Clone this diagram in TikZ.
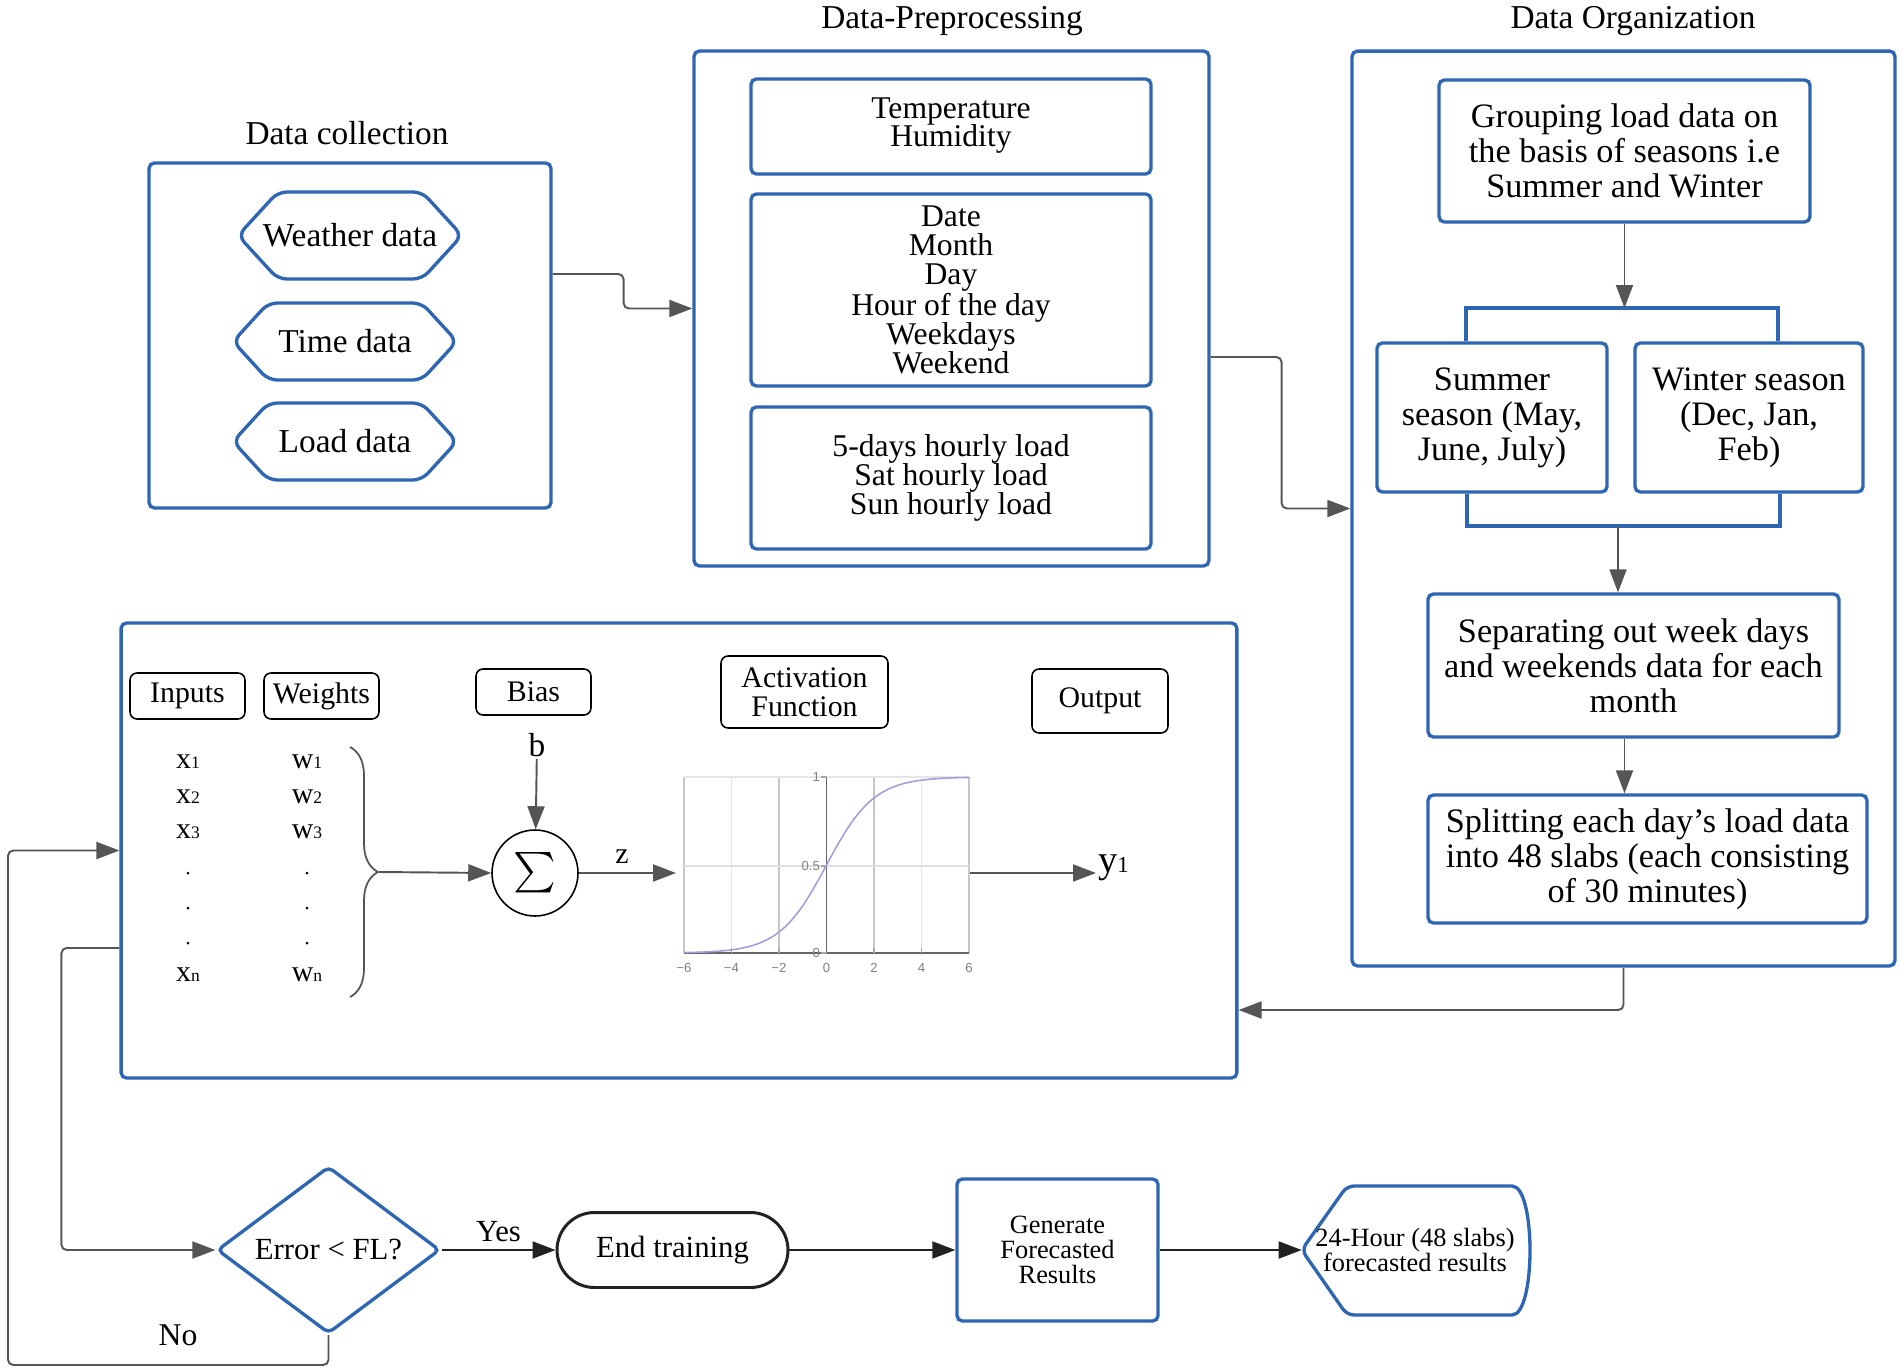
\documentclass[tikz,border=0pt]{standalone}
\usepackage{fontspec}
\setmainfont{Liberation Serif}
\setsansfont{Liberation Sans}
\usepackage{graphicx}
\usepackage{xcolor}
\usetikzlibrary{shapes}
\usetikzlibrary{shapes.misc}
\usetikzlibrary{arrows.meta}
\usetikzlibrary{decorations.pathreplacing}

\definecolor{boxblue}{HTML}{2F66B3}
\definecolor{lngray}{HTML}{555555}
\definecolor{lndark}{HTML}{222222}
\definecolor{sigcol}{HTML}{A0A0D8}

\newcommand{\fsize}[2]{\fontsize{#1}{#2}\selectfont}
\newcommand{\smallsub}[1]{{\fontsize{10}{10}\selectfont #1}}

\tikzset{
  bluebox/.style={draw=boxblue, line width=1.9pt, rounded corners=3pt, align=center, inner sep=0pt},
  hexa/.style={bluebox, shape=signal, signal to=west and east, signal pointer angle=95,
    rounded corners=5pt, minimum width=4.48cm, font=\fsize{19}{20}},
  prepbox/.style={bluebox, minimum width=8cm, font=\fsize{18}{16.5}},
  orgbox/.style={bluebox, font=\fsize{19.5}{20}},
  lblbox/.style={draw, line width=.9pt, rounded corners=4pt, align=center, inner sep=0pt,
    minimum width=2.3cm, minimum height=.92cm, font=\fsize{17}{16.5}},
  vartxt/.style={inner sep=1pt, font=\fsize{17}{17}},
  dotnd/.style={circle, fill, inner sep=0pt, minimum size=.06cm},
  ticklbl/.style={inner sep=1pt, text=gray, font=\sffamily\fsize{7.5}{8}},
  conn/.style={draw=lngray, line width=1.1pt, rounded corners=3pt, -{Triangle[length=.46cm,width=.34cm]}},
  conndk/.style={conn, draw=lndark},
  ttl/.style={font=\fsize{19}{20}},
}

\begin{document}
\begin{tikzpicture}[x=0.02cm, y=-0.02cm]
\useasboundingbox (0,0) rectangle (1900,1372);

% data collection
\node[ttl] (colttl) at (347,133) {Data collection};
\node[bluebox, minimum width=8.04cm, minimum height=6.9cm] (collect) at (350,335.5) {};
\node[hexa, minimum height=1.74cm, inner xsep=-.36cm] (wthr) at (350,235.5) {Weather data};
\node[hexa, minimum height=1.54cm] (tdata) at (345,341.5) {Time data};
\node[hexa, minimum height=1.54cm] (ldata) at (345,441.5) {Load data};

% data preprocessing
\node[ttl] (prepttl) at (952,21) {Data-Preprocessing};
\node[bluebox, minimum width=10.3cm, minimum height=10.3cm] (prep) at (951.5,308.5) {};
\node[prepbox, minimum height=1.9cm] (clim) at (951,126.5) {\raisebox{-3pt}{\begin{tabular}{@{}c@{}}Temperature\\[-1.5pt]Humidity\end{tabular}}};
\node[prepbox, minimum height=3.84cm] (cal) at (951,290) {Date\\Month\\Day\\Hour of the day\\Weekdays\\Weekend};
\node[prepbox, minimum height=2.84cm] (hrly) at (951,478) {5-days hourly load\\Sat hourly load\\Sun hourly load};

% data organization
\node[ttl] (orgttl) at (1633,21) {Data Organization};
\node[bluebox, minimum width=10.86cm, minimum height=18.3cm] (org) at (1623.5,508.5) {};
\node[orgbox, minimum width=7.42cm, minimum height=2.84cm] (group) at (1624.5,151) {Grouping load data on\\the basis of seasons i.e\\Summer and Winter};
\node[orgbox, minimum width=4.6cm, minimum height=2.98cm] (summer) at (1492,417.5) {Summer\\season (May,\\June, July)};
\node[orgbox, minimum width=4.56cm, minimum height=2.98cm] (winter) at (1749,417.5) {Winter season\\(Dec, Jan,\\Feb)};
\node[orgbox, minimum width=8.22cm, minimum height=2.86cm] (sep) at (1633.5,665.5) {Separating out week days\\and weekends data for each\\month};
\node[orgbox, minimum width=8.78cm, minimum height=2.56cm] (split) at (1647.5,859) {Splitting each day's load data\\into 48 slabs (each consisting\\of 30 minutes)};

\coordinate (brtl) at (1466,308);
\coordinate (brtr) at (1778,308);
\coordinate (brbl) at (1467,526);
\coordinate (brbr) at (1780,526);
\coordinate (brbm) at (1618,526);
\draw[boxblue, line width=1.9pt] (brtl |- summer.north) -- (brtl) -- (brtr) -- (brtr |- winter.north);
\draw[boxblue, line width=1.9pt] (brbl |- summer.south) -- (brbl) -- (brbr) -- (brbr |- winter.south);
\draw[conn] (group.south) -- (group.south |- brtl);
\draw[conn] (brbm) -- (brbm |- sep.north);
\draw[conn] (sep.south -| group.south) -- (split.north -| group.south);

% between the blocks
\draw[conn] ([yshift=1.23cm]collect.east) -- ++(71,0) |- (prep.west);
\draw[conn] ([yshift=-.97cm]prep.east) -- ++(71,0) |- (org.west);

% neuron
\node[bluebox, minimum width=22.32cm, minimum height=9.1cm] (nn) at (679,850.5) {};
\coordinate (orgret) at (1622,1010);
\draw[conn] (org.south) |- (nn.east |- orgret);

\node[lblbox] (inp) at (187.5,696) {Inputs};
\node[lblbox] (wgt) at (321.5,696) {Weights};
\node[lblbox] (bias) at (533.5,692) {Bias};
\node[lblbox, minimum width=3.34cm, minimum height=1.44cm] (actf) at (804.5,692) {Activation\\Function};
\node[lblbox, minimum width=2.72cm, minimum height=1.28cm] (outp) at (1100,701) {Output};

\foreach \i/\y in {1/762, 2/797, 3/832} {
  \node[vartxt] (x\i) at (188,\y) {x\smallsub{\i}};
  \node[vartxt] (w\i) at (307,\y) {w\smallsub{\i}};
}
\foreach \y [count=\k] in {873, 908, 943} {
  \node[dotnd] (xd\k) at (188,\y) {};
  \node[dotnd] (wd\k) at (307,\y) {};
}
\node[vartxt] (xn) at (188,975) {x\smallsub{n}};
\node[vartxt] (wn) at (307,975) {w\smallsub{n}};

\draw[lngray, line width=1pt, decorate, decoration={brace, amplitude=.56cm}] (350,747) -- (350,997);
\coordinate (brtip) at (379,872);

\node[circle, draw, line width=.9pt, minimum size=1.72cm, inner sep=0pt] (sum) at (535,873) {\scalebox{2.3}{$\sum$}};
\node[vartxt, font=\fsize{19}{20}] (bsym) at (537,745) {b};
\node[vartxt] (zsym) at (622,857) {z};
\coordinate (actin) at (676,873);
\coordinate (actout) at (970,873);
\node[anchor=west, inner sep=1pt, font=\fsize{22}{22}] (yout) at (1096,868) {y\smallsub{\fsize{13}{13}1}};

\draw[conn] (brtip) -- (sum.west);
\draw[conn] (bsym) -- (sum);
\draw[conn] (sum) -- (actin);
\draw[conn] (actout) -- (actout -| yout.west);

% sigmoid plot
\foreach \t/\c in {-6/gray!45, -4/gray!20, -2/gray!45, 2/gray!45, 4/gray!20, 6/gray!45}
  \draw[\c, line width=.6pt] ({826.5+23.75*\t},777) -- ({826.5+23.75*\t},953);
\draw[gray!20, line width=.6pt] (684,777) -- (969,777);
\draw[gray!25, line width=.6pt] (684,866) -- (969,866);
\draw[gray!80!black, line width=.8pt] (684,953) -- (969,953);
\draw[gray!80!black, line width=.8pt] (826.5,777) -- (826.5,953);
\foreach \t in {-4,-2,2,4}
  \draw[gray!70, line width=.6pt] ({826.5+23.75*\t},953) -- ++(0,-5);
\foreach \t/\l in {-6/−6, -4/−4, -2/−2, 0/0, 2/2, 4/4, 6/6}
  \node[ticklbl] at ({826.5+23.75*\t},968) {\l};
\foreach \v/\l in {777/1, 866/0.5, 953/0} {
  \draw[gray!70, line width=.6pt] (821,\v) -- (826.5,\v);
  \node[ticklbl, anchor=east] at (822,\v) {\l};
}
\draw[sigcol, line width=.9pt] plot[domain=-6:6, samples=80, smooth] ({826.5+23.75*\x}, {953-176/(1+exp(-\x))});

% training check
\node[bluebox, shape=diamond, aspect=1.34, rounded corners=3pt, minimum width=4.46cm, minimum height=3.34cm, font=\fsize{17.5}{18}] (err) at (328.5,1250) {Error < FL?};
\node[draw=lndark, line width=1.7pt, rounded rectangle, minimum width=4.62cm, minimum height=1.5cm, inner sep=0pt, font=\fsize{17.5}{18}] (endt) at (672.5,1250) {End training};
\node[bluebox, minimum width=4.02cm, minimum height=2.84cm, font=\fsize{15}{14.2}] (gen) at (1057.5,1250) {Generate\\Forecasted\\Results};
\node[minimum width=4.52cm, minimum height=2.6cm, inner sep=0pt, align=center, font=\fsize{15}{13.2}] (res) at (1415,1250) {24-Hour (48 slabs)\\forecasted results};
\draw[boxblue, line width=1.9pt, rounded corners=4pt] (res.west) -- (1347,1186) -- (1505,1186)
  .. controls (1536,1186) and (1536,1315) .. (1505,1315) -- (1347,1315) -- cycle;

\draw[conndk] (err.east) -- (endt.west) node[midway, above=1pt, font=\fsize{17.5}{18}] (yeslbl) {Yes};
\draw[conndk] (endt.east) -- (gen.west);
\draw[conndk] (gen.east) -- (res.west);

% feedback
\draw[conn] ([yshift=-1.95cm]nn.west) -- ++(-58,0) |- (err.west);
\coordinate (noret) at (8,1365);
\draw[conn] (err.south) |- (noret) |- (nn.west);
\node[font=\fsize{18}{18}] (nolbl) at (178,1335) {No};
\end{tikzpicture}
\end{document}
